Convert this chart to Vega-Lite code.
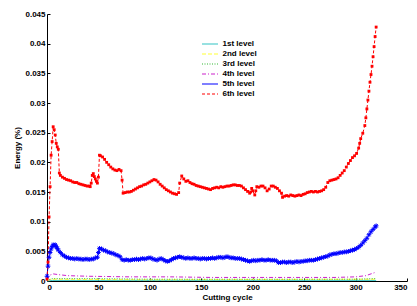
{
  "$schema": "https://vega.github.io/schema/vega-lite/v6.json",
  "width": 360,
  "height": 267,
  "autosize": "none",
  "padding": {"left": 47, "top": 14, "right": 10, "bottom": 25},
  "background": "white",
  "config": {
    "view": {"stroke": null},
    "font": "Liberation Sans",
    "axis": {
      "grid": false,
      "domainColor": "#000000",
      "domainWidth": 1,
      "tickColor": "#000000",
      "tickSize": -3,
      "labelPadding": 5,
      "labelFont": "Liberation Sans",
      "labelFontSize": 8,
      "labelFontWeight": "bold",
      "labelColor": "#000000",
      "titleFont": "Liberation Sans",
      "titleFontSize": 8,
      "titleFontWeight": "bold",
      "titleColor": "#000000"
    },
    "legend": {
      "orient": "none",
      "legendX": 157,
      "legendY": 24,
      "title": null,
      "labelFont": "Liberation Sans",
      "labelFontSize": 8,
      "labelFontWeight": "bold",
      "labelColor": "#000000",
      "symbolType": "M-1.6,0L1.6,0",
      "symbolSize": 100,
      "symbolStrokeWidth": 1.2,
      "rowPadding": 0,
      "labelOffset": 6.5
    }
  },
  "datasets": {
    "series": [
      {"level": "1st level", "cycle": 0, "energy": 0.0},
      {"level": "1st level", "cycle": 5, "energy": 0.0001},
      {"level": "1st level", "cycle": 320, "energy": 0.0001},
      {"level": "2nd level", "cycle": 0, "energy": 0.0001},
      {"level": "2nd level", "cycle": 5, "energy": 0.0003},
      {"level": "2nd level", "cycle": 100, "energy": 0.0002},
      {"level": "2nd level", "cycle": 320, "energy": 0.0003},
      {"level": "3rd level", "cycle": 0, "energy": 0.0001},
      {"level": "3rd level", "cycle": 5, "energy": 0.0004},
      {"level": "3rd level", "cycle": 50, "energy": 0.0004},
      {"level": "3rd level", "cycle": 100, "energy": 0.0003},
      {"level": "3rd level", "cycle": 300, "energy": 0.0003},
      {"level": "3rd level", "cycle": 320, "energy": 0.0004},
      {"level": "4th level", "cycle": 0, "energy": 0.0002},
      {"level": "4th level", "cycle": 3, "energy": 0.001},
      {"level": "4th level", "cycle": 6, "energy": 0.0012},
      {"level": "4th level", "cycle": 10, "energy": 0.0011},
      {"level": "4th level", "cycle": 20, "energy": 0.0009},
      {"level": "4th level", "cycle": 40, "energy": 0.0008},
      {"level": "4th level", "cycle": 80, "energy": 0.0007},
      {"level": "4th level", "cycle": 120, "energy": 0.0007},
      {"level": "4th level", "cycle": 160, "energy": 0.0006},
      {"level": "4th level", "cycle": 200, "energy": 0.0006},
      {"level": "4th level", "cycle": 240, "energy": 0.0006},
      {"level": "4th level", "cycle": 280, "energy": 0.0006},
      {"level": "4th level", "cycle": 300, "energy": 0.0007},
      {"level": "4th level", "cycle": 310, "energy": 0.0009},
      {"level": "4th level", "cycle": 320, "energy": 0.0015},
      {"level": "5th level", "cycle": 0, "energy": 0.0008},
      {"level": "5th level", "cycle": 1, "energy": 0.0025},
      {"level": "5th level", "cycle": 2, "energy": 0.004},
      {"level": "5th level", "cycle": 3, "energy": 0.0048},
      {"level": "5th level", "cycle": 4, "energy": 0.0054},
      {"level": "5th level", "cycle": 5, "energy": 0.0058},
      {"level": "5th level", "cycle": 6, "energy": 0.0061},
      {"level": "5th level", "cycle": 7, "energy": 0.006},
      {"level": "5th level", "cycle": 8, "energy": 0.0061},
      {"level": "5th level", "cycle": 9, "energy": 0.0058},
      {"level": "5th level", "cycle": 10, "energy": 0.0055},
      {"level": "5th level", "cycle": 11, "energy": 0.0052},
      {"level": "5th level", "cycle": 13, "energy": 0.0048},
      {"level": "5th level", "cycle": 15, "energy": 0.0044},
      {"level": "5th level", "cycle": 17, "energy": 0.0042},
      {"level": "5th level", "cycle": 19, "energy": 0.004},
      {"level": "5th level", "cycle": 21, "energy": 0.0039},
      {"level": "5th level", "cycle": 23, "energy": 0.0038},
      {"level": "5th level", "cycle": 25, "energy": 0.0038},
      {"level": "5th level", "cycle": 27, "energy": 0.0037},
      {"level": "5th level", "cycle": 29, "energy": 0.0038},
      {"level": "5th level", "cycle": 31, "energy": 0.0037},
      {"level": "5th level", "cycle": 33, "energy": 0.0037},
      {"level": "5th level", "cycle": 35, "energy": 0.0036},
      {"level": "5th level", "cycle": 37, "energy": 0.0037},
      {"level": "5th level", "cycle": 39, "energy": 0.0037},
      {"level": "5th level", "cycle": 41, "energy": 0.0036},
      {"level": "5th level", "cycle": 43, "energy": 0.0037},
      {"level": "5th level", "cycle": 45, "energy": 0.0037},
      {"level": "5th level", "cycle": 47, "energy": 0.0039},
      {"level": "5th level", "cycle": 49, "energy": 0.004},
      {"level": "5th level", "cycle": 50, "energy": 0.0048},
      {"level": "5th level", "cycle": 51, "energy": 0.0055},
      {"level": "5th level", "cycle": 53, "energy": 0.0054},
      {"level": "5th level", "cycle": 55, "energy": 0.0052},
      {"level": "5th level", "cycle": 57, "energy": 0.0051},
      {"level": "5th level", "cycle": 59, "energy": 0.0049},
      {"level": "5th level", "cycle": 61, "energy": 0.0048},
      {"level": "5th level", "cycle": 63, "energy": 0.0047},
      {"level": "5th level", "cycle": 65, "energy": 0.0046},
      {"level": "5th level", "cycle": 67, "energy": 0.0044},
      {"level": "5th level", "cycle": 69, "energy": 0.0043},
      {"level": "5th level", "cycle": 71, "energy": 0.0041},
      {"level": "5th level", "cycle": 73, "energy": 0.0036},
      {"level": "5th level", "cycle": 75, "energy": 0.0035},
      {"level": "5th level", "cycle": 77, "energy": 0.0036},
      {"level": "5th level", "cycle": 79, "energy": 0.0035},
      {"level": "5th level", "cycle": 81, "energy": 0.0035},
      {"level": "5th level", "cycle": 83, "energy": 0.0036},
      {"level": "5th level", "cycle": 85, "energy": 0.0036},
      {"level": "5th level", "cycle": 87, "energy": 0.0037},
      {"level": "5th level", "cycle": 89, "energy": 0.0036},
      {"level": "5th level", "cycle": 91, "energy": 0.0037},
      {"level": "5th level", "cycle": 93, "energy": 0.0038},
      {"level": "5th level", "cycle": 95, "energy": 0.0037},
      {"level": "5th level", "cycle": 97, "energy": 0.0038},
      {"level": "5th level", "cycle": 99, "energy": 0.0039},
      {"level": "5th level", "cycle": 101, "energy": 0.0039},
      {"level": "5th level", "cycle": 103, "energy": 0.0037},
      {"level": "5th level", "cycle": 105, "energy": 0.0036},
      {"level": "5th level", "cycle": 107, "energy": 0.0035},
      {"level": "5th level", "cycle": 109, "energy": 0.0037},
      {"level": "5th level", "cycle": 111, "energy": 0.0038},
      {"level": "5th level", "cycle": 113, "energy": 0.0036},
      {"level": "5th level", "cycle": 115, "energy": 0.0034},
      {"level": "5th level", "cycle": 117, "energy": 0.0033},
      {"level": "5th level", "cycle": 119, "energy": 0.0034},
      {"level": "5th level", "cycle": 121, "energy": 0.0036},
      {"level": "5th level", "cycle": 123, "energy": 0.0038},
      {"level": "5th level", "cycle": 125, "energy": 0.0039},
      {"level": "5th level", "cycle": 127, "energy": 0.004},
      {"level": "5th level", "cycle": 129, "energy": 0.0041},
      {"level": "5th level", "cycle": 131, "energy": 0.004},
      {"level": "5th level", "cycle": 133, "energy": 0.0039},
      {"level": "5th level", "cycle": 135, "energy": 0.0038},
      {"level": "5th level", "cycle": 137, "energy": 0.0039},
      {"level": "5th level", "cycle": 139, "energy": 0.0038},
      {"level": "5th level", "cycle": 141, "energy": 0.0038},
      {"level": "5th level", "cycle": 143, "energy": 0.0039},
      {"level": "5th level", "cycle": 145, "energy": 0.0038},
      {"level": "5th level", "cycle": 147, "energy": 0.0038},
      {"level": "5th level", "cycle": 149, "energy": 0.0037},
      {"level": "5th level", "cycle": 151, "energy": 0.0038},
      {"level": "5th level", "cycle": 153, "energy": 0.0038},
      {"level": "5th level", "cycle": 155, "energy": 0.0037},
      {"level": "5th level", "cycle": 157, "energy": 0.0038},
      {"level": "5th level", "cycle": 159, "energy": 0.0038},
      {"level": "5th level", "cycle": 161, "energy": 0.0039},
      {"level": "5th level", "cycle": 163, "energy": 0.0038},
      {"level": "5th level", "cycle": 165, "energy": 0.0039},
      {"level": "5th level", "cycle": 167, "energy": 0.004},
      {"level": "5th level", "cycle": 169, "energy": 0.004},
      {"level": "5th level", "cycle": 171, "energy": 0.0039},
      {"level": "5th level", "cycle": 173, "energy": 0.004},
      {"level": "5th level", "cycle": 175, "energy": 0.0041},
      {"level": "5th level", "cycle": 177, "energy": 0.004},
      {"level": "5th level", "cycle": 179, "energy": 0.0039},
      {"level": "5th level", "cycle": 181, "energy": 0.0039},
      {"level": "5th level", "cycle": 183, "energy": 0.0038},
      {"level": "5th level", "cycle": 185, "energy": 0.0038},
      {"level": "5th level", "cycle": 187, "energy": 0.0038},
      {"level": "5th level", "cycle": 189, "energy": 0.0037},
      {"level": "5th level", "cycle": 191, "energy": 0.0036},
      {"level": "5th level", "cycle": 193, "energy": 0.0035},
      {"level": "5th level", "cycle": 195, "energy": 0.0034},
      {"level": "5th level", "cycle": 197, "energy": 0.0033},
      {"level": "5th level", "cycle": 199, "energy": 0.0034},
      {"level": "5th level", "cycle": 201, "energy": 0.0035},
      {"level": "5th level", "cycle": 203, "energy": 0.0034},
      {"level": "5th level", "cycle": 205, "energy": 0.0035},
      {"level": "5th level", "cycle": 207, "energy": 0.0035},
      {"level": "5th level", "cycle": 209, "energy": 0.0036},
      {"level": "5th level", "cycle": 211, "energy": 0.0035},
      {"level": "5th level", "cycle": 213, "energy": 0.0035},
      {"level": "5th level", "cycle": 215, "energy": 0.0036},
      {"level": "5th level", "cycle": 217, "energy": 0.0035},
      {"level": "5th level", "cycle": 219, "energy": 0.0035},
      {"level": "5th level", "cycle": 221, "energy": 0.0035},
      {"level": "5th level", "cycle": 223, "energy": 0.0034},
      {"level": "5th level", "cycle": 225, "energy": 0.0031},
      {"level": "5th level", "cycle": 227, "energy": 0.0031},
      {"level": "5th level", "cycle": 229, "energy": 0.0032},
      {"level": "5th level", "cycle": 231, "energy": 0.0032},
      {"level": "5th level", "cycle": 233, "energy": 0.0031},
      {"level": "5th level", "cycle": 235, "energy": 0.0032},
      {"level": "5th level", "cycle": 237, "energy": 0.0032},
      {"level": "5th level", "cycle": 239, "energy": 0.0031},
      {"level": "5th level", "cycle": 241, "energy": 0.0032},
      {"level": "5th level", "cycle": 243, "energy": 0.0033},
      {"level": "5th level", "cycle": 245, "energy": 0.0032},
      {"level": "5th level", "cycle": 247, "energy": 0.0033},
      {"level": "5th level", "cycle": 249, "energy": 0.0033},
      {"level": "5th level", "cycle": 251, "energy": 0.0034},
      {"level": "5th level", "cycle": 253, "energy": 0.0034},
      {"level": "5th level", "cycle": 255, "energy": 0.0035},
      {"level": "5th level", "cycle": 257, "energy": 0.0035},
      {"level": "5th level", "cycle": 259, "energy": 0.0035},
      {"level": "5th level", "cycle": 261, "energy": 0.0036},
      {"level": "5th level", "cycle": 263, "energy": 0.0037},
      {"level": "5th level", "cycle": 265, "energy": 0.0038},
      {"level": "5th level", "cycle": 267, "energy": 0.0039},
      {"level": "5th level", "cycle": 269, "energy": 0.004},
      {"level": "5th level", "cycle": 271, "energy": 0.0041},
      {"level": "5th level", "cycle": 273, "energy": 0.0042},
      {"level": "5th level", "cycle": 275, "energy": 0.0044},
      {"level": "5th level", "cycle": 277, "energy": 0.0045},
      {"level": "5th level", "cycle": 279, "energy": 0.0046},
      {"level": "5th level", "cycle": 281, "energy": 0.0046},
      {"level": "5th level", "cycle": 283, "energy": 0.0047},
      {"level": "5th level", "cycle": 285, "energy": 0.0048},
      {"level": "5th level", "cycle": 287, "energy": 0.0048},
      {"level": "5th level", "cycle": 289, "energy": 0.0049},
      {"level": "5th level", "cycle": 291, "energy": 0.0049},
      {"level": "5th level", "cycle": 293, "energy": 0.005},
      {"level": "5th level", "cycle": 295, "energy": 0.0051},
      {"level": "5th level", "cycle": 297, "energy": 0.0052},
      {"level": "5th level", "cycle": 299, "energy": 0.0053},
      {"level": "5th level", "cycle": 301, "energy": 0.0055},
      {"level": "5th level", "cycle": 303, "energy": 0.0057},
      {"level": "5th level", "cycle": 305, "energy": 0.006},
      {"level": "5th level", "cycle": 307, "energy": 0.0064},
      {"level": "5th level", "cycle": 309, "energy": 0.0068},
      {"level": "5th level", "cycle": 311, "energy": 0.0072},
      {"level": "5th level", "cycle": 313, "energy": 0.0078},
      {"level": "5th level", "cycle": 315, "energy": 0.0083},
      {"level": "5th level", "cycle": 317, "energy": 0.0087},
      {"level": "5th level", "cycle": 319, "energy": 0.0091},
      {"level": "5th level", "cycle": 320, "energy": 0.0093},
      {"level": "6th level", "cycle": 0, "energy": 0.0003},
      {"level": "6th level", "cycle": 1, "energy": 0.0032},
      {"level": "6th level", "cycle": 2, "energy": 0.0108},
      {"level": "6th level", "cycle": 3, "energy": 0.0159},
      {"level": "6th level", "cycle": 4, "energy": 0.0212},
      {"level": "6th level", "cycle": 5, "energy": 0.0235},
      {"level": "6th level", "cycle": 6, "energy": 0.026},
      {"level": "6th level", "cycle": 7, "energy": 0.0255},
      {"level": "6th level", "cycle": 8, "energy": 0.0246},
      {"level": "6th level", "cycle": 9, "energy": 0.0232},
      {"level": "6th level", "cycle": 10, "energy": 0.0226},
      {"level": "6th level", "cycle": 11, "energy": 0.0222},
      {"level": "6th level", "cycle": 12, "energy": 0.0182},
      {"level": "6th level", "cycle": 13, "energy": 0.0178},
      {"level": "6th level", "cycle": 15, "energy": 0.0175},
      {"level": "6th level", "cycle": 17, "energy": 0.0173},
      {"level": "6th level", "cycle": 19, "energy": 0.0171},
      {"level": "6th level", "cycle": 21, "energy": 0.017},
      {"level": "6th level", "cycle": 23, "energy": 0.0169},
      {"level": "6th level", "cycle": 25, "energy": 0.0167},
      {"level": "6th level", "cycle": 27, "energy": 0.0166},
      {"level": "6th level", "cycle": 29, "energy": 0.0166},
      {"level": "6th level", "cycle": 31, "energy": 0.0164},
      {"level": "6th level", "cycle": 33, "energy": 0.0163},
      {"level": "6th level", "cycle": 35, "energy": 0.0162},
      {"level": "6th level", "cycle": 37, "energy": 0.0161},
      {"level": "6th level", "cycle": 39, "energy": 0.016},
      {"level": "6th level", "cycle": 41, "energy": 0.016},
      {"level": "6th level", "cycle": 42, "energy": 0.0159},
      {"level": "6th level", "cycle": 43, "energy": 0.0165},
      {"level": "6th level", "cycle": 44, "energy": 0.0178},
      {"level": "6th level", "cycle": 45, "energy": 0.0181},
      {"level": "6th level", "cycle": 46, "energy": 0.0176},
      {"level": "6th level", "cycle": 47, "energy": 0.0172},
      {"level": "6th level", "cycle": 48, "energy": 0.0168},
      {"level": "6th level", "cycle": 49, "energy": 0.0165},
      {"level": "6th level", "cycle": 50, "energy": 0.0175},
      {"level": "6th level", "cycle": 51, "energy": 0.0212},
      {"level": "6th level", "cycle": 52, "energy": 0.0211},
      {"level": "6th level", "cycle": 54, "energy": 0.0209},
      {"level": "6th level", "cycle": 56, "energy": 0.0205},
      {"level": "6th level", "cycle": 58, "energy": 0.02},
      {"level": "6th level", "cycle": 60, "energy": 0.0196},
      {"level": "6th level", "cycle": 62, "energy": 0.0192},
      {"level": "6th level", "cycle": 64, "energy": 0.0189},
      {"level": "6th level", "cycle": 66, "energy": 0.0187},
      {"level": "6th level", "cycle": 68, "energy": 0.0186},
      {"level": "6th level", "cycle": 70, "energy": 0.0188},
      {"level": "6th level", "cycle": 72, "energy": 0.0186},
      {"level": "6th level", "cycle": 73, "energy": 0.017},
      {"level": "6th level", "cycle": 74, "energy": 0.0148},
      {"level": "6th level", "cycle": 76, "energy": 0.0149},
      {"level": "6th level", "cycle": 78, "energy": 0.015},
      {"level": "6th level", "cycle": 80, "energy": 0.015},
      {"level": "6th level", "cycle": 82, "energy": 0.0151},
      {"level": "6th level", "cycle": 84, "energy": 0.0153},
      {"level": "6th level", "cycle": 86, "energy": 0.0155},
      {"level": "6th level", "cycle": 88, "energy": 0.0157},
      {"level": "6th level", "cycle": 90, "energy": 0.0159},
      {"level": "6th level", "cycle": 92, "energy": 0.016},
      {"level": "6th level", "cycle": 94, "energy": 0.0162},
      {"level": "6th level", "cycle": 96, "energy": 0.0163},
      {"level": "6th level", "cycle": 98, "energy": 0.0165},
      {"level": "6th level", "cycle": 100, "energy": 0.0167},
      {"level": "6th level", "cycle": 102, "energy": 0.0169},
      {"level": "6th level", "cycle": 104, "energy": 0.0171},
      {"level": "6th level", "cycle": 106, "energy": 0.017},
      {"level": "6th level", "cycle": 108, "energy": 0.0167},
      {"level": "6th level", "cycle": 110, "energy": 0.0163},
      {"level": "6th level", "cycle": 112, "energy": 0.016},
      {"level": "6th level", "cycle": 114, "energy": 0.0157},
      {"level": "6th level", "cycle": 116, "energy": 0.0154},
      {"level": "6th level", "cycle": 118, "energy": 0.0152},
      {"level": "6th level", "cycle": 120, "energy": 0.015},
      {"level": "6th level", "cycle": 122, "energy": 0.0148},
      {"level": "6th level", "cycle": 124, "energy": 0.0147},
      {"level": "6th level", "cycle": 126, "energy": 0.0146},
      {"level": "6th level", "cycle": 128, "energy": 0.0149},
      {"level": "6th level", "cycle": 129, "energy": 0.0165},
      {"level": "6th level", "cycle": 131, "energy": 0.0177},
      {"level": "6th level", "cycle": 133, "energy": 0.0172},
      {"level": "6th level", "cycle": 135, "energy": 0.0168},
      {"level": "6th level", "cycle": 137, "energy": 0.0169},
      {"level": "6th level", "cycle": 139, "energy": 0.0166},
      {"level": "6th level", "cycle": 141, "energy": 0.0164},
      {"level": "6th level", "cycle": 143, "energy": 0.0163},
      {"level": "6th level", "cycle": 145, "energy": 0.0161},
      {"level": "6th level", "cycle": 147, "energy": 0.016},
      {"level": "6th level", "cycle": 149, "energy": 0.0159},
      {"level": "6th level", "cycle": 151, "energy": 0.0158},
      {"level": "6th level", "cycle": 153, "energy": 0.0157},
      {"level": "6th level", "cycle": 155, "energy": 0.0156},
      {"level": "6th level", "cycle": 157, "energy": 0.0155},
      {"level": "6th level", "cycle": 159, "energy": 0.0154},
      {"level": "6th level", "cycle": 161, "energy": 0.0156},
      {"level": "6th level", "cycle": 163, "energy": 0.0157},
      {"level": "6th level", "cycle": 165, "energy": 0.0158},
      {"level": "6th level", "cycle": 167, "energy": 0.0157},
      {"level": "6th level", "cycle": 169, "energy": 0.0159},
      {"level": "6th level", "cycle": 171, "energy": 0.0158},
      {"level": "6th level", "cycle": 173, "energy": 0.0159},
      {"level": "6th level", "cycle": 175, "energy": 0.016},
      {"level": "6th level", "cycle": 177, "energy": 0.016},
      {"level": "6th level", "cycle": 179, "energy": 0.0161},
      {"level": "6th level", "cycle": 181, "energy": 0.0162},
      {"level": "6th level", "cycle": 183, "energy": 0.0162},
      {"level": "6th level", "cycle": 185, "energy": 0.0161},
      {"level": "6th level", "cycle": 187, "energy": 0.0161},
      {"level": "6th level", "cycle": 189, "energy": 0.016},
      {"level": "6th level", "cycle": 191, "energy": 0.0157},
      {"level": "6th level", "cycle": 193, "energy": 0.0154},
      {"level": "6th level", "cycle": 195, "energy": 0.0151},
      {"level": "6th level", "cycle": 197, "energy": 0.0148},
      {"level": "6th level", "cycle": 198, "energy": 0.015},
      {"level": "6th level", "cycle": 199, "energy": 0.0156},
      {"level": "6th level", "cycle": 200, "energy": 0.0152},
      {"level": "6th level", "cycle": 202, "energy": 0.0145},
      {"level": "6th level", "cycle": 203, "energy": 0.0152},
      {"level": "6th level", "cycle": 204, "energy": 0.0159},
      {"level": "6th level", "cycle": 206, "energy": 0.0158},
      {"level": "6th level", "cycle": 208, "energy": 0.016},
      {"level": "6th level", "cycle": 210, "energy": 0.016},
      {"level": "6th level", "cycle": 212, "energy": 0.0157},
      {"level": "6th level", "cycle": 214, "energy": 0.0152},
      {"level": "6th level", "cycle": 216, "energy": 0.0155},
      {"level": "6th level", "cycle": 218, "energy": 0.016},
      {"level": "6th level", "cycle": 220, "energy": 0.016},
      {"level": "6th level", "cycle": 222, "energy": 0.0158},
      {"level": "6th level", "cycle": 224, "energy": 0.0156},
      {"level": "6th level", "cycle": 226, "energy": 0.0152},
      {"level": "6th level", "cycle": 228, "energy": 0.0148},
      {"level": "6th level", "cycle": 229, "energy": 0.0141},
      {"level": "6th level", "cycle": 231, "energy": 0.0143},
      {"level": "6th level", "cycle": 233, "energy": 0.0144},
      {"level": "6th level", "cycle": 235, "energy": 0.0143},
      {"level": "6th level", "cycle": 237, "energy": 0.0145},
      {"level": "6th level", "cycle": 239, "energy": 0.0144},
      {"level": "6th level", "cycle": 241, "energy": 0.0143},
      {"level": "6th level", "cycle": 243, "energy": 0.0144},
      {"level": "6th level", "cycle": 245, "energy": 0.0145},
      {"level": "6th level", "cycle": 247, "energy": 0.0144},
      {"level": "6th level", "cycle": 249, "energy": 0.0146},
      {"level": "6th level", "cycle": 251, "energy": 0.0147},
      {"level": "6th level", "cycle": 253, "energy": 0.0149},
      {"level": "6th level", "cycle": 255, "energy": 0.015},
      {"level": "6th level", "cycle": 257, "energy": 0.0151},
      {"level": "6th level", "cycle": 259, "energy": 0.015},
      {"level": "6th level", "cycle": 261, "energy": 0.0151},
      {"level": "6th level", "cycle": 263, "energy": 0.015},
      {"level": "6th level", "cycle": 265, "energy": 0.0151},
      {"level": "6th level", "cycle": 267, "energy": 0.0152},
      {"level": "6th level", "cycle": 269, "energy": 0.0154},
      {"level": "6th level", "cycle": 271, "energy": 0.0158},
      {"level": "6th level", "cycle": 273, "energy": 0.0166},
      {"level": "6th level", "cycle": 275, "energy": 0.0169},
      {"level": "6th level", "cycle": 277, "energy": 0.017},
      {"level": "6th level", "cycle": 279, "energy": 0.0171},
      {"level": "6th level", "cycle": 281, "energy": 0.0172},
      {"level": "6th level", "cycle": 283, "energy": 0.0174},
      {"level": "6th level", "cycle": 285, "energy": 0.0178},
      {"level": "6th level", "cycle": 287, "energy": 0.0182},
      {"level": "6th level", "cycle": 289, "energy": 0.0186},
      {"level": "6th level", "cycle": 291, "energy": 0.0192},
      {"level": "6th level", "cycle": 293, "energy": 0.0198},
      {"level": "6th level", "cycle": 295, "energy": 0.0203},
      {"level": "6th level", "cycle": 297, "energy": 0.0208},
      {"level": "6th level", "cycle": 299, "energy": 0.0211},
      {"level": "6th level", "cycle": 301, "energy": 0.0215},
      {"level": "6th level", "cycle": 303, "energy": 0.0224},
      {"level": "6th level", "cycle": 304, "energy": 0.0232},
      {"level": "6th level", "cycle": 305, "energy": 0.024},
      {"level": "6th level", "cycle": 307, "energy": 0.0249},
      {"level": "6th level", "cycle": 309, "energy": 0.0262},
      {"level": "6th level", "cycle": 310, "energy": 0.0275},
      {"level": "6th level", "cycle": 311, "energy": 0.029},
      {"level": "6th level", "cycle": 312, "energy": 0.0305},
      {"level": "6th level", "cycle": 313, "energy": 0.032},
      {"level": "6th level", "cycle": 314, "energy": 0.0335},
      {"level": "6th level", "cycle": 315, "energy": 0.0348},
      {"level": "6th level", "cycle": 316, "energy": 0.0362},
      {"level": "6th level", "cycle": 317, "energy": 0.0378},
      {"level": "6th level", "cycle": 318, "energy": 0.0395},
      {"level": "6th level", "cycle": 319, "energy": 0.0412},
      {"level": "6th level", "cycle": 320, "energy": 0.0428}
    ]
  },
  "data": {"name": "series"},
  "encoding": {
    "x": {
      "field": "cycle",
      "type": "quantitative",
      "title": "Cutting cycle",
      "scale": {"domain": [0, 350], "nice": false},
      "axis": {"values": [0, 50, 100, 150, 200, 250, 300, 350], "titlePadding": 2}
    },
    "y": {
      "field": "energy",
      "type": "quantitative",
      "title": "Energy (%)",
      "scale": {"domain": [0, 0.045], "nice": false},
      "axis": {
        "values": [0, 0.005, 0.01, 0.015, 0.02, 0.025, 0.03, 0.035, 0.04, 0.045],
        "format": "~g",
        "titlePadding": 3
      }
    }
  },
  "layer": [
    {
      "mark": {"type": "line", "strokeWidth": 1},
      "encoding": {
        "color": {
          "field": "level",
          "type": "nominal",
          "scale": {
            "domain": ["1st level", "2nd level", "3rd level", "4th level", "5th level", "6th level"],
            "range": ["#33C4C4", "#FFFF33", "#33B833", "#CC22CC", "#0000FF", "#FF0000"]
          }
        },
        "strokeDash": {
          "field": "level",
          "type": "nominal",
          "scale": {
            "domain": ["1st level", "2nd level", "3rd level", "4th level", "5th level", "6th level"],
            "range": [[1, 0], [4, 2], [1, 1.5], [4, 2, 1, 2], [1, 0], [3, 2]]
          }
        }
      }
    },
    {
      "transform": [{"filter": "datum.level === '5th level'"}],
      "mark": {
        "type": "point",
        "shape": "M-1,0L1,0M0,-1L0,1M-0.7,-0.7L0.7,0.7M-0.7,0.7L0.7,-0.7",
        "filled": false,
        "color": "#0000FF",
        "size": 22,
        "strokeWidth": 1,
        "opacity": 1
      },
      "encoding": {}
    },
    {
      "transform": [{"filter": "datum.level === '6th level'"}],
      "mark": {
        "type": "point",
        "shape": "square",
        "filled": true,
        "color": "#FF0000",
        "size": 8,
        "opacity": 1
      },
      "encoding": {}
    }
  ]
}
